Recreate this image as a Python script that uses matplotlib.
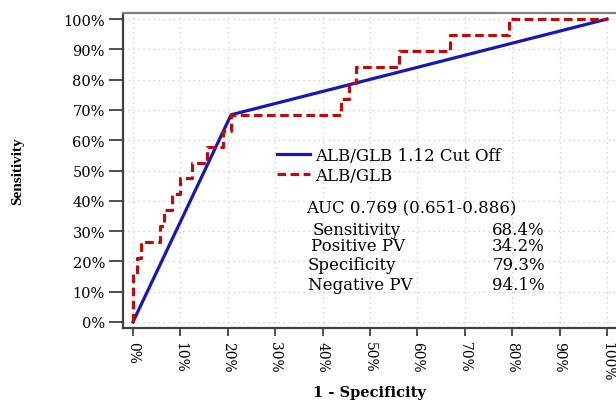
import matplotlib
matplotlib.use("Agg")
import matplotlib.pyplot as plt
import numpy as np

# ROC curve corners (1 - specificity, sensitivity)
roc_fpr = [0.0, 0.0, 0.008, 0.008, 0.017, 0.017, 0.058, 0.058, 0.066, 0.066,
           0.083, 0.083, 0.099, 0.099, 0.124, 0.124, 0.157, 0.157, 0.190, 0.190,
           0.207, 0.207, 0.438, 0.438, 0.455, 0.455, 0.471, 0.471, 0.562, 0.562,
           0.669, 0.669, 0.793, 0.793, 1.0]
roc_tpr = [0.0, 0.158, 0.158, 0.211, 0.211, 0.263, 0.263, 0.316, 0.316, 0.368,
           0.368, 0.421, 0.421, 0.474, 0.474, 0.526, 0.526, 0.579, 0.579, 0.632,
           0.632, 0.684, 0.684, 0.737, 0.737, 0.789, 0.789, 0.842, 0.842, 0.895,
           0.895, 0.947, 0.947, 1.0, 1.0]

# single cut off line
cut_fpr = [0.0, 0.207, 1.0]
cut_tpr = [0.0, 0.684, 1.0]

ticks = [0.0, 0.1, 0.2, 0.3, 0.4, 0.5, 0.6, 0.7, 0.8, 0.9, 1.0]
tick_labels = ["0%", "10%", "20%", "30%", "40%", "50%", "60%", "70%", "80%", "90%", "100%"]

auc_text = "AUC 0.769 (0.651-0.886)"
stat_names = ["Sensitivity", "Positive PV", "Specificity", "Negative PV"]
stat_values = ["68.4%", "34.2%", "79.3%", "94.1%"]

plt.rcParams["font.family"] = "DejaVu Serif"

fig = plt.figure(figsize=(6.16, 4.02), dpi=100)
ax = fig.add_axes([123 / 616, 73 / 402, 493 / 616, 315 / 402])

ax.plot(cut_fpr, cut_tpr, color="#1818b0", lw=2.3, label="ALB/GLB 1.12 Cut Off", zorder=3)
ax.plot(roc_fpr, roc_tpr, color="#b01010", lw=2.3, dashes=(2.7, 1.4),
        label="ALB/GLB", zorder=4)

ax.set_xlim(-0.021, 1.019)
ax.set_ylim(-0.02, 1.02)
ax.set_xticks(ticks)
ax.set_xticklabels(tick_labels, rotation=-90, fontsize=10)
ax.set_yticks(ticks)
ax.set_yticklabels(tick_labels, fontsize=10.5)
ax.tick_params(axis="y", length=10, width=1.3, color="#404040", pad=3)
ax.tick_params(axis="x", length=6, width=1.3, color="#404040", pad=3.5)

ax.grid(True, color="#c8c8c8", linestyle=(0, (1, 3)), lw=0.9)
ax.set_axisbelow(True)

ax.spines["right"].set_visible(False)
ax.spines["top"].set_color("#808080")
ax.spines["top"].set_linewidth(1.6)
for s in ["left", "bottom"]:
    ax.spines[s].set_color("#404040")
    ax.spines[s].set_linewidth(1.6)

ax.set_xlabel("1 - Specificity", fontsize=10.5, fontweight="bold", labelpad=3)
ax.set_ylabel("Sensitivity", fontsize=11, fontweight="bold", family="Liberation Serif",
              labelpad=28)

ax.legend(loc="upper left", bbox_to_anchor=(0.312, 0.575), frameon=False,
          fontsize=12, handlelength=2.0, handletextpad=0.3, labelspacing=0.2,
          borderpad=0, borderaxespad=0)

ax.text(0.365, 0.38, auc_text, fontsize=12, va="center", ha="left")
name_x = [0.380, 0.376, 0.369, 0.369]
row_y = [0.304, 0.251, 0.191, 0.125]
for name, val, nx, ry in zip(stat_names, stat_values, name_x, row_y):
    ax.text(nx, ry, name, fontsize=12, va="center", ha="left")
    ax.text(0.869, ry, val, fontsize=12, va="center", ha="right")

fig.savefig("out.png", dpi=100)
